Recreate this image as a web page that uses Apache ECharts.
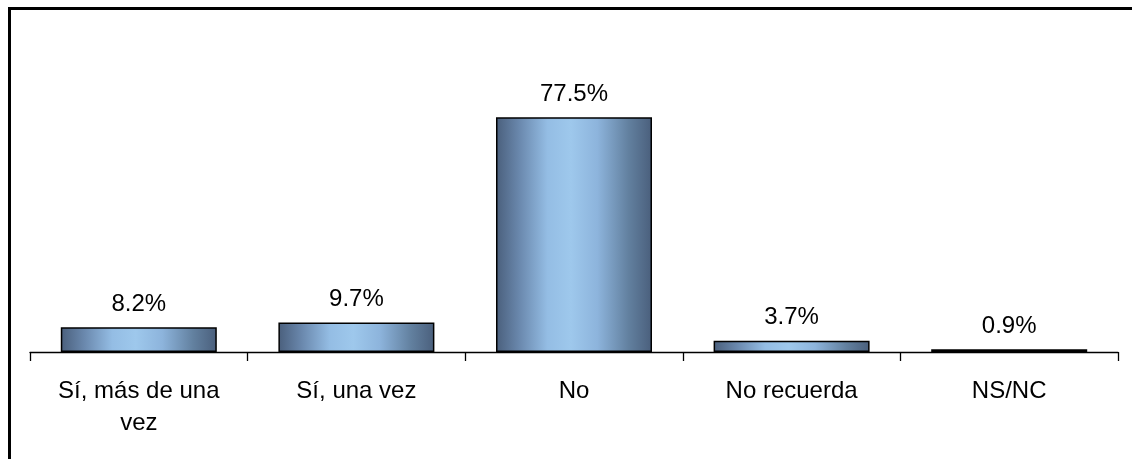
<!DOCTYPE html>
<html>
<head>
<meta charset="utf-8">
<script src="https://cdn.jsdelivr.net/npm/echarts@6/dist/echarts.min.js"></script>
<style>
html,body{margin:0;padding:0;background:#fff;}
#c{width:1132px;height:459px;}
</style>
</head>
<body>
<div id="c"></div>
<script>
const categories = ['Sí, más de una\nvez', 'Sí, una vez', 'No', 'No recuerda', 'NS/NC'];
const values = [8.2, 9.7, 77.5, 3.7, 0.9];

const chart = echarts.init(document.getElementById('c'), null, {renderer: 'canvas'});
const grad = new echarts.graphic.LinearGradient(0, 0, 1, 0, [
  {offset: 0, color: '#4a5f7c'},
  {offset: 0.15, color: '#6a88ad'},
  {offset: 0.33, color: '#94bde4'},
  {offset: 0.48, color: '#9ec8ec'},
  {offset: 0.65, color: '#8db4dc'},
  {offset: 0.85, color: '#62809f'},
  {offset: 1, color: '#4a5f7c'}
]);
const FONT = '"Liberation Sans", Arial, sans-serif';
chart.setOption({
  animation: false,
  backgroundColor: '#fff',
  textStyle: {fontFamily: FONT},
  graphic: [{
    type: 'polyline', silent: true, z: 100,
    shape: {points: [[9.5, 2000], [9.5, 8.5], [2000, 8.5]]},
    style: {fill: 'none', stroke: '#000', lineWidth: 3}
  }],
  grid: {left: 30, right: 14, top: 49, bottom: 107},
  xAxis: {
    type: 'category',
    data: categories,
    axisLine: {lineStyle: {color: '#000', width: 1.3}},
    axisTick: {show: true, length: 9, lineStyle: {color: '#000', width: 1.3}},
    axisLabel: {color: '#000', fontSize: 24, lineHeight: 32, margin: 23, interval: 0, fontFamily: FONT}
  },
  yAxis: {
    type: 'value', min: 0, max: 100, show: false, splitLine: {show: false}
  },
  series: [{
    type: 'bar',
    data: values,
    barWidth: 156,
    itemStyle: {color: grad, borderColor: '#000', borderWidth: 1.5},
    label: {
      show: true, position: 'top', distance: 11,
      formatter: p => p.value.toFixed(1) + '%',
      color: '#000', fontSize: 24, fontFamily: FONT
    }
  }]
});
</script>
</body>
</html>
